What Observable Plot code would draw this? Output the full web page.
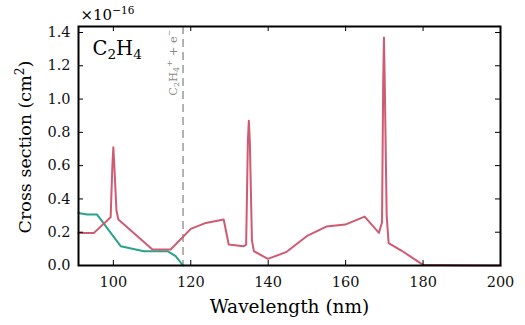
<!DOCTYPE html>
<html>
<head>
<meta charset="utf-8">
<script src="https://cdn.jsdelivr.net/npm/d3@7"></script>
<script src="https://cdn.jsdelivr.net/npm/@observablehq/plot@0.6"></script>
<style>
  html, body { margin: 0; padding: 0; background: #fff; }
  svg, svg text { font-family: "DejaVu Serif", serif !important; }
</style>
</head>
<body>
<div id="chart"></div>
<script>
// Absorption cross section of C2H4 (units of 1e-16 cm^2)
const redWavelength = [91, 95, 99.3, 99.75, 100.0, 100.25, 100.8, 101.3, 110.1, 114.8, 120, 123.9, 128.5, 129.8, 133.6, 134.3, 134.75, 135.0, 135.25, 135.8, 136.3, 139.9, 144.6, 150.2, 155, 159.9, 164.9, 168.6, 169.4, 169.7, 169.9, 170.1, 170.6, 171.1, 174.4, 180, 190, 200];
const redValue      = [0.196, 0.196, 0.29, 0.6, 0.71, 0.6, 0.33, 0.276, 0.096, 0.096, 0.22, 0.256, 0.276, 0.126, 0.115, 0.125, 0.75, 0.87, 0.75, 0.15, 0.086, 0.04, 0.08, 0.18, 0.234, 0.246, 0.294, 0.196, 0.26, 1.1, 1.37, 1.1, 0.3, 0.135, 0.09, 0.004, 0.001, 0.0];

const tealWavelength = [91, 93.2, 95.8, 101.9, 107.9, 114, 116.1, 118];
const tealValue      = [0.316, 0.306, 0.306, 0.116, 0.086, 0.086, 0.056, 0.0];

const ionizationThreshold = [118];
const ionizationLabel = "C₂H₄⁺ + e⁻";
const speciesLabel = "C₂H₄";
const scaleLabel = "×10⁻¹⁶";
const xTicks = [100, 120, 140, 160, 180, 200];
const yTicks = [0.0, 0.2, 0.4, 0.6, 0.8, 1.0, 1.2, 1.4];
const xLabel = "Wavelength (nm)";
const yLabel = "Cross section (cm²)";

const red = redWavelength.map((w, i) => ({w, v: redValue[i]}));
const teal = tealWavelength.map((w, i) => ({w, v: tealValue[i]}));

const W = 525, H = 325, mL = 78, mR = 25, mT = 26, mB = 60;
const innerW = W - mL - mR, innerH = H - mT - mB;
const tickLen = 5;
const serif = "DejaVu Serif";

const chart = Plot.plot({
  width: W,
  height: H,
  marginLeft: mL,
  marginRight: mR,
  marginTop: mT,
  marginBottom: mB,
  style: {fontFamily: serif, background: "#fff"},
  x: {domain: [91, 200]},
  y: {domain: [0, 1.436]},
  marks: [
    Plot.ruleX(ionizationThreshold, {x: d => d, stroke: "#9a9a9a", strokeWidth: 1.5, strokeDasharray: "8,5"}),
    Plot.line(teal, {x: "w", y: "v", stroke: "#2aa38a", strokeWidth: 2}),
    Plot.line(red, {x: "w", y: "v", stroke: "#cf5a72", strokeWidth: 2}),
    // inward ticks on all four sides
    Plot.tickX(xTicks, {x: d => d, stroke: "#000", strokeWidth: 1, insetTop: innerH - tickLen}),
    Plot.tickX(xTicks, {x: d => d, stroke: "#000", strokeWidth: 1, insetBottom: innerH - tickLen}),
    Plot.tickY(yTicks, {y: d => d, stroke: "#000", strokeWidth: 1, insetRight: innerW - tickLen}),
    Plot.tickY(yTicks, {y: d => d, stroke: "#000", strokeWidth: 1, insetLeft: innerW - tickLen}),
    Plot.axisX(xTicks, {tickSize: 0, tickPadding: 11, fontSize: 14.5, fontFamily: serif, label: null, tickFormat: d => String(d), fill: "#111"}),
    Plot.axisY(yTicks, {tickSize: 0, tickPadding: 8, fontSize: 14.5, fontFamily: serif, label: null, tickFormat: d => d.toFixed(1), fill: "#111"}),
    Plot.frame({stroke: "#000", strokeWidth: 2}),
    Plot.text(ionizationThreshold, {x: d => d, frameAnchor: "top", text: () => ionizationLabel, rotate: -90, textAnchor: "end", lineAnchor: "middle", dx: -10, dy: 3, fontSize: 11.5, fontFamily: serif, fill: "#8a8a8a"}),
    Plot.text([speciesLabel], {frameAnchor: "top-left", text: d => d, textAnchor: "start", lineAnchor: "middle", dx: 14, dy: 22, fontSize: 19.5, fontFamily: serif, fill: "#000"}),
    Plot.text([scaleLabel], {frameAnchor: "top-left", text: d => d, textAnchor: "start", lineAnchor: "middle", dx: 2, dy: -11, fontSize: 15, fontFamily: serif, fill: "#000"}),
    Plot.text([xLabel], {frameAnchor: "bottom", text: d => d, textAnchor: "middle", lineAnchor: "middle", dy: 42, fontSize: 18.5, fontFamily: serif, fill: "#000"}),
    Plot.text([yLabel], {frameAnchor: "left", text: d => d, rotate: -90, textAnchor: "middle", lineAnchor: "middle", dx: -53, dy: 1, fontSize: 17.5, fontFamily: serif, fill: "#000"})
  ]
});
document.getElementById("chart").appendChild(chart);

// Turn unicode sub/superscript characters into real shifted tspans
const subMap = {"₀":"0","₁":"1","₂":"2","₃":"3","₄":"4","₅":"5","₆":"6","₇":"7","₈":"8","₉":"9"};
const supMap = {"⁰":"0","¹":"1","²":"2","³":"3","⁴":"4","⁵":"5","⁶":"6","⁷":"7","⁸":"8","⁹":"9","⁺":"+","⁻":"−"};
d3.select(chart).selectAll("text").each(function() {
  const s = this.textContent;
  if (![...s].some(c => subMap[c] || supMap[c])) return;
  const fs = parseFloat(getComputedStyle(this).fontSize) || 14;
  const runs = [];
  for (const c of s) {
    const kind = subMap[c] ? "sub" : supMap[c] ? "sup" : "n";
    const ch = subMap[c] || supMap[c] || c;
    if (runs.length && runs[runs.length - 1].kind === kind) runs[runs.length - 1].t += ch;
    else runs.push({kind, t: ch});
  }
  const sel = d3.select(this);
  sel.text(null);
  let cur = 0;
  for (const r of runs) {
    const target = r.kind === "sub" ? 0.22 * fs : r.kind === "sup" ? -0.42 * fs : 0;
    const ts = sel.append("tspan").attr("dy", target - cur).text(r.t);
    if (r.kind !== "n") ts.attr("font-size", 0.7 * fs);
    cur = target;
  }
});
</script>
</body>
</html>
